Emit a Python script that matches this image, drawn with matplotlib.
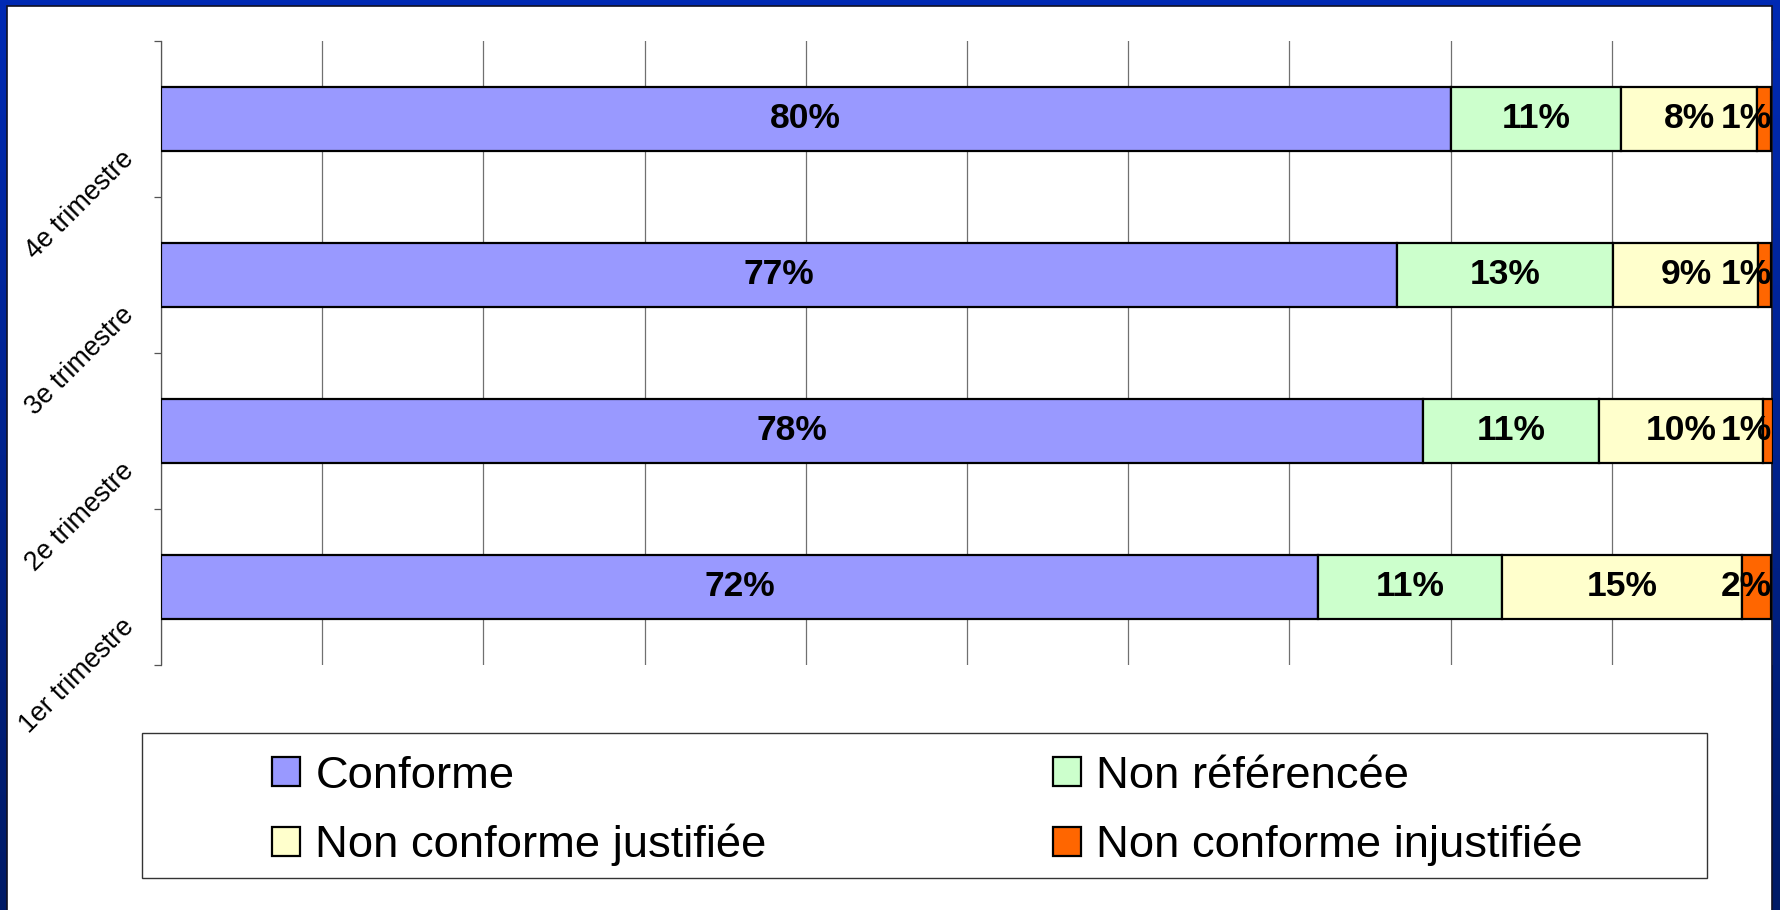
import matplotlib

matplotlib.use("Agg")
import matplotlib.pyplot as plt
import numpy as np
from matplotlib.patches import Rectangle

plt.rcParams["font.family"] = ["Liberation Sans", "DejaVu Sans"]

# ---- data (bottom to top, as drawn) ----
quarters = ["1er trimestre", "2e trimestre", "3e trimestre", "4e trimestre"]
series = ["Conforme", "Non référencée", "Non conforme justifiée", "Non conforme injustifiée"]
conforme = [71.8, 78.3, 76.7, 80.0]
non_referencee = [11.4, 10.9, 13.4, 10.6]
nc_justifiee = [14.9, 10.2, 9.0, 8.4]
nc_injustifiee = [1.8, 0.6, 0.8, 0.9]
colors = ["#9999FF", "#CCFFCC", "#FFFFCC", "#FF6600"]

W, H = 1781, 910
fig = plt.figure(figsize=(W / 100, H / 100), dpi=100)

# ---- slide frame: blue gradient border, white inside ----
bg = fig.add_axes([0, 0, 1, 1], zorder=-1)
bg.set_xlim(0, W)
bg.set_ylim(H, 0)
bg.axis("off")
top_c = np.array([0x00, 0x2A, 0xB4]) / 255
bot_c = np.array([0x00, 0x1A, 0x66]) / 255
t = np.linspace(0, 1, 256)[:, None]
grad = (top_c * (1 - t) + bot_c * t)[:, None, :]
bg.imshow(grad, extent=[0, W, H, 0], aspect="auto", interpolation="bilinear")
bg.add_patch(Rectangle((7, 6), 1765, H + 10, facecolor="white", edgecolor="#111122", lw=1.2))

# ---- main axes ----
left, right, top, bottom = 161, 1773, 41, 665
ax = fig.add_axes([left / W, 1 - bottom / H, (right - left) / W, (bottom - top) / H])
ax.set_facecolor("none")

y = np.arange(len(quarters))
stack = [conforme, non_referencee, nc_justifiee, nc_injustifiee]
handles = []
base = np.zeros(len(quarters))
for name, vals, col in zip(series, stack, colors):
    vals = np.array(vals)
    bars = ax.barh(y, vals, left=base, height=0.41, color=col, edgecolor="black",
                   linewidth=1.6, label=name, zorder=3)
    handles.append(bars)
    for yi, b, v in zip(y, base, vals):
        xc = b + v / 2
        # like the original: labels that would spill past the plot are pushed back inside
        if xc + 1.5 > 100:
            ax.text(99.9, yi, f"{v:.0f}%", ha="right", va="center", fontsize=25.5,
                    fontweight="bold", zorder=4)
        else:
            ax.text(xc, yi, f"{v:.0f}%", ha="center", va="center", fontsize=25.5,
                    fontweight="bold", zorder=4)
    base = base + vals

ax.set_xlim(0, 100)
ax.set_ylim(-0.5, 3.5)
ax.set_xticks(np.arange(0, 101, 10))
ax.xaxis.grid(True, color="#707070", lw=0.9)
ax.set_axisbelow(True)
ax.tick_params(axis="x", length=0, labelbottom=False)
ax.set_yticks([])
ax.set_yticks(np.arange(-0.5, 3.6, 1), minor=True)
ax.tick_params(axis="y", which="minor", length=5, width=0.9, color="#555555", direction="out")
for s in ("top", "right", "bottom"):
    ax.spines[s].set_visible(False)
ax.spines["left"].set_color("#555555")
ax.spines["left"].set_linewidth(0.9)

for yi, q in zip(y, quarters):
    ax.text(-0.019, yi - 0.23, q, transform=ax.get_yaxis_transform(), rotation=45,
            rotation_mode="anchor", ha="right", va="center", fontsize=19.3)

# ---- legend in its own box ----
fig.add_artist(Rectangle((142 / W, 1 - 878 / H), (1707 - 142) / W, (878 - 733) / H,
                         transform=fig.transFigure, facecolor="white",
                         edgecolor="#333333", lw=1.0))
leg_size = 32.7
fs_px = leg_size * 100 / 72
order = [0, 2, 1, 3]
fig.legend([handles[i] for i in order], [series[i] for i in order], ncol=2,
           loc="center", bbox_to_anchor=(927.4 / W, 1 - 811 / H), frameon=False,
           fontsize=leg_size, handlelength=28 / fs_px, handleheight=28 / fs_px,
           handletextpad=15 / fs_px, columnspacing=286 / fs_px,
           labelspacing=27 / fs_px, borderpad=0)

fig.savefig("out.png", dpi=100)
